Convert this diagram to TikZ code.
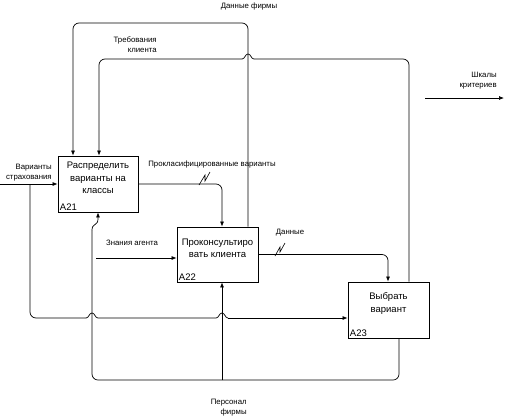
\documentclass[tikz,border=0pt]{standalone}
\usepackage{fontspec}
\setmainfont{Liberation Sans}
\usetikzlibrary{arrows.meta}
\begin{document}
\begin{tikzpicture}[x=1pt,y=-1pt,
  line width=0.7pt,
  arr/.style={-{Latex[length=5pt,width=4pt]}},
  rc/.style={rounded corners=6pt},
  box/.style={draw, line width=0.8pt, minimum width=#1, inner sep=0pt},
  boxtext/.style={font=\fontsize{9.5}{12.5}\selectfont, align=center, inner sep=0pt},
  idlab/.style={font=\fontsize{9.5}{11}\selectfont, anchor=south west, inner xsep=2pt, inner ysep=1.5pt},
  lab/.style={font=\fontsize{7.8}{10}\selectfont, inner sep=0pt}
]
\useasboundingbox (0,0) rectangle (505,418);

% boxes
\node[box=80pt, minimum height=56pt] (a21) at (98,184) {};
\node[box=81pt, minimum height=55pt] (a22) at (217.5,254.5) {};
\node[box=81pt, minimum height=56pt] (a23) at (388.5,310) {};

\node[boxtext] (t21) at ([yshift=6pt]a21.center) {Распределить\\варианты на\\классы};
\node[boxtext] (t22) at ([yshift=6pt]a22.center) {Проконсультиро\\вать клиента};
\node[boxtext] (t23) at ([yshift=6.5pt]a23.center) {Выбрать\\вариант};
\node[idlab] (i21) at (a21.south west) {A21};
\node[idlab] (i22) at (a22.south west) {A22};
\node[idlab] (i23) at (a23.south west) {A23};

% coordinates
\coordinate (in1) at (0,184);
\coordinate (ka) at (96,258);
\coordinate (sk1) at (425,98);
\coordinate (sk2) at (504,98);

% Данные фирмы
\draw[arr, rc] (a22.north -| 248,0) -- (248,23) -- (73,23) -- (a21.north -| 73,0);

% Требования клиента
\draw[rc] (a23.north -| 409,0) -- (409,59) -- (254,59);
\draw (254,59) .. controls (251,59) and (251,54) .. (248,54)
               .. controls (245,54) and (245,59) .. (242,59);
\draw[arr, rc] (242,59) -- (99,59) -- (a21.north -| 99,0);

% Варианты страхования
\draw[arr] (in1) -- (a21.west);
\draw[rc] (30,184) -- (30,318) -- (86,318);
\draw (86,318) .. controls (89,318) and (89,313) .. (92,313)
               .. controls (95,313) and (95,318) .. (98,318) -- (216,318)
               .. controls (219,318) and (219,313) .. (222,313)
               .. controls (225,313) and (225,318) .. (228,318);
\draw[arr] (228,318) -- (a23.west |- 0,318);

% Проклассифицированные варианты
\draw[arr, rc] (a21.east) -- (222,184) -- (a22.north -| 222,0);
\draw[line width=0.6pt] (199,185) -- (205,175) -- (205,181) -- (210,172);

% Знания агента
\draw[arr] (ka) -- (a22.west |- ka);

% Данные
\draw[arr, rc] (a22.east) -- (388,254.5) -- (a23.north -| 388,0);
\draw[line width=0.6pt] (275,256) -- (280,247) -- (280,252) -- (285,243);

% Персонал фирмы
\draw[rc] (a23.south -| 399,0) -- (399,380) -- (92,380) -- (92,230);
\draw[arr] (92,230) .. controls (92,223) and (98,226) .. (98,219) -- (a21.south -| 98,0);
\draw[arr] (222,380) -- (a22.south -| 222,0);

% Шкалы критериев
\draw[arr] (sk1) -- (sk2);

% labels
\node[lab] (l1) at (249,6) {Данные фирмы};
\node[lab, align=right, anchor=east] (l2) at (157,45) {Требования\\клиента};
\node[lab, align=right, anchor=east] (l3) at (497,81) {Шкалы\\критериев};
\node[lab, align=right, anchor=east] (l4) at (52,173) {Варианты\\страхования};
\node[lab] (l5) at (212,164) {Прокласифицированные варианты};
\node[lab] (l6) at (132,243) {Знания агента};
\node[lab] (l7) at (290,233) {Данные};
\node[lab, align=right, anchor=east] (l8) at (247,407.5) {Персонал\\фирмы};
\end{tikzpicture}
\end{document}
